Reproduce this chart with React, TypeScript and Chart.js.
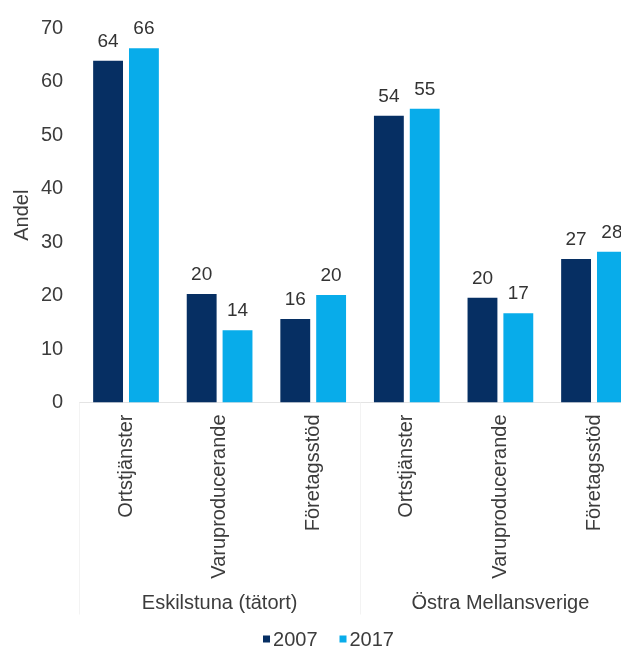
import React, { useEffect, useRef } from 'react';
import { Chart, registerables } from 'chart.js';

Chart.register(...registerables);

const groups = ['Eskilstuna (tätort)', 'Östra Mellansverige'];
const sectors = ['Ortstjänster', 'Varuproducerande', 'Företagsstöd'];
const categories = [...sectors, ...sectors];
const seriesNames = ['2007', '2017'];
const values2007 = [63.9, 20.3, 15.6, 53.6, 19.6, 26.8];
const values2017 = [66.2, 13.5, 20.1, 54.9, 16.7, 28.2];
const yTicks = [0, 10, 20, 30, 40, 50, 60, 70];
const yTitle = 'Andel';
const seriesColors = ['#062f63', '#08acea'];

const FONT = '"Liberation Sans", Arial, Helvetica, sans-serif';
const TEXT = '#3c3c3c';

const overlay = {
  id: 'overlay',
  afterDatasetsDraw(chart: any) {
    const ctx = chart.ctx;
    ctx.save();
    ctx.font = `19px ${FONT}`;
    ctx.fillStyle = '#333333';
    ctx.textAlign = 'center';
    ctx.textBaseline = 'alphabetic';
    chart.data.datasets.forEach((ds: any, di: number) => {
      const meta = chart.getDatasetMeta(di);
      meta.data.forEach((bar: any, i: number) => {
        ctx.fillText(String(Math.round(ds.data[i])), bar.x, bar.y - 14);
      });
    });
    ctx.restore();
  },
  afterDraw(chart: any) {
    const ctx = chart.ctx;
    const xs = chart.scales.x;
    const area = chart.chartArea;
    ctx.save();
    // faint group separators
    ctx.strokeStyle = '#f3f3f3';
    ctx.lineWidth = 1;
    const half = (xs.getPixelForValue(1) - xs.getPixelForValue(0)) / 2;
    for (let g = 0; g <= groups.length; g++) {
      const idx = g * sectors.length;
      const px = Math.round(xs.getPixelForValue(idx) - half) + 0.5;
      ctx.beginPath();
      ctx.moveTo(px, area.bottom);
      ctx.lineTo(px, area.bottom + 212);
      ctx.stroke();
    }
    // group labels
    ctx.font = `20px ${FONT}`;
    ctx.fillStyle = TEXT;
    ctx.textAlign = 'center';
    ctx.textBaseline = 'middle';
    groups.forEach((g, gi) => {
      const first = gi * sectors.length;
      const last = first + sectors.length - 1;
      const cx = (xs.getPixelForValue(first) + xs.getPixelForValue(last)) / 2;
      ctx.fillText(g, cx, area.bottom + 201);
    });
    // legend
    const box = 7;
    const gap = 3;
    const between = 22;
    ctx.font = `20px ${FONT}`;
    const items = chart.data.datasets.map((ds: any) => ({
      label: ds.label,
      color: ds.backgroundColor,
      w: box + gap + ctx.measureText(ds.label).width,
    }));
    const total = items.reduce((s: number, it: any) => s + it.w, 0) + between * (items.length - 1);
    let lx = chart.width / 2 + 3.5 - total / 2;
    const ly = area.bottom + 237.5;
    ctx.textAlign = 'left';
    ctx.textBaseline = 'middle';
    items.forEach((it: any) => {
      ctx.fillStyle = it.color;
      ctx.fillRect(lx, ly - box / 2 - 1, box, box);
      ctx.fillStyle = TEXT;
      ctx.fillText(it.label, lx + box + gap, ly);
      lx += it.w + between;
    });
    ctx.restore();
  },
};

export default function App() {
  const ref = useRef<HTMLCanvasElement>(null);

  useEffect(() => {
    if (!ref.current) return;
    const chart = new Chart(ref.current, {
      type: 'bar',
      data: {
        labels: categories,
        datasets: [
          {
            label: seriesNames[0],
            data: values2007,
            backgroundColor: seriesColors[0],
            categoryPercentage: 0.766,
            barPercentage: 0.833,
          },
          {
            label: seriesNames[1],
            data: values2017,
            backgroundColor: seriesColors[1],
            categoryPercentage: 0.766,
            barPercentage: 0.833,
          },
        ],
      },
      options: {
        responsive: false,
        animation: false,
        layout: { padding: { top: 25.5, right: 9.2, bottom: 0, left: 0 } },
        plugins: {
          legend: { display: false },
          tooltip: { enabled: false },
        },
        scales: {
          x: {
            type: 'category',
            grid: { display: false, drawTicks: false },
            border: { display: true, color: '#e4e4e4', width: 1 },
            ticks: {
              autoSkip: false,
              minRotation: 90,
              maxRotation: 90,
              padding: 12,
              color: TEXT,
              font: { family: FONT, size: 20 },
            },
            afterFit: (scale: any) => {
              scale.height = 247.5;
            },
          },
          y: {
            min: 0,
            max: 70,
            grid: { display: false, drawTicks: false },
            border: { display: false },
            afterBuildTicks: (scale: any) => {
              scale.ticks = yTicks.map((v) => ({ value: v }));
            },
            ticks: {
              padding: 16,
              color: TEXT,
              font: { family: FONT, size: 20 },
            },
            title: {
              display: true,
              text: yTitle,
              color: TEXT,
              font: { family: FONT, size: 20 },
              padding: { top: 10, bottom: 0 },
            },
            afterFit: (scale: any) => {
              scale.width = 79.2;
            },
          },
        },
      },
      plugins: [overlay],
    });
    return () => chart.destroy();
  }, []);

  return (
    <div
      style={{
        position: 'fixed',
        left: 0,
        top: 0,
        width: 621,
        height: 650,
        overflow: 'hidden',
        background: '#ffffff',
      }}
    >
      <canvas ref={ref} width={650} height={650} style={{ width: 650, height: 650, display: 'block' }} />
    </div>
  );
}
